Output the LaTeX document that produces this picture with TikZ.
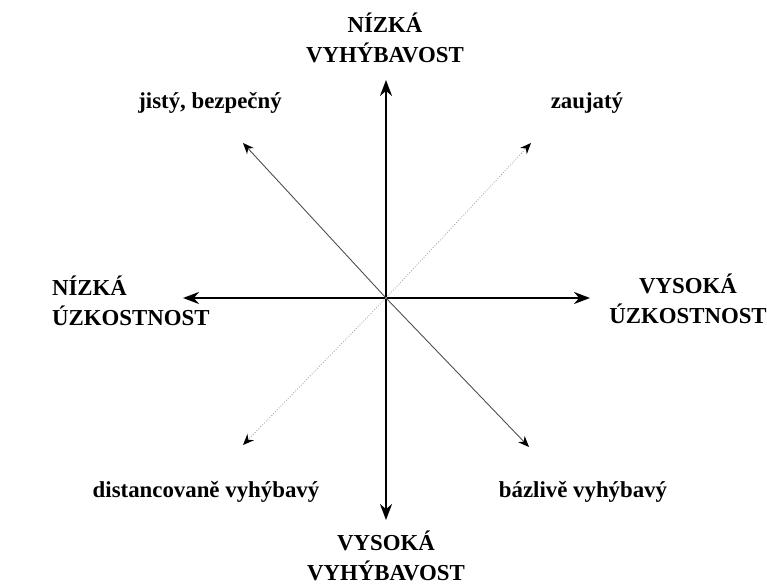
\documentclass[tikz,border=0pt]{standalone}
\usepackage{fontspec}
\setmainfont{Liberation Serif}
\usetikzlibrary{arrows.meta}

\begin{document}
\begin{tikzpicture}[x=0.02cm,y=-0.02cm,>=Stealth,
  every node/.style={font=\fontsize{13}{17}\selectfont\bfseries,align=center,inner sep=1pt},
  axis/.style={->,line width=1.4pt,>={Stealth[length=3.2mm,width=2.4mm]}},
  diag/.style={->,line width=0.5pt,>={Stealth[length=2.2mm,width=1.8mm,color=black]}}]
  \useasboundingbox (0,0) rectangle (767,584);
  \coordinate (o) at (386,298);
  % axis ends
  \coordinate (top) at (386,80);
  \coordinate (bot) at (386,520);
  \coordinate (lft) at (183,298);
  \coordinate (rgt) at (590,298);
  % diagonal ends
  \coordinate (nw) at (243,143);
  \coordinate (ne) at (531,143);
  \coordinate (sw) at (243,445);
  \coordinate (se) at (529,447);
  % labels
  \node (lowavoid) at (385,38) {NÍZKÁ\\VYHÝBAVOST};
  \node (highavoid) at (386,556) {VYSOKÁ\\VYHÝBAVOST};
  \node[anchor=west,align=left] (lowanx) at (50,301) {NÍZKÁ\\ÚZKOSTNOST};
  \node (highanx) at (688,299) {VYSOKÁ\\ÚZKOSTNOST};
  \node (secure) at (210,103) {jistý, bezpečný};
  \node (preocc) at (587,103) {zaujatý};
  \node (dismiss) at (206,492) {distancovaně vyhýbavý};
  \node (fearful) at (583,492) {bázlivě vyhýbavý};
  % arrows
  \draw[axis] (o) -- (top);
  \draw[axis] (o) -- (bot);
  \draw[axis] (o) -- (lft);
  \draw[axis] (o) -- (rgt);
  \draw[diag,black!70] (o) -- (nw);
  \draw[diag,black!70] (o) -- (se);
  \draw[diag,black!35,densely dotted] (o) -- (ne);
  \draw[diag,black!35,densely dotted] (o) -- (sw);
\end{tikzpicture}
\end{document}
